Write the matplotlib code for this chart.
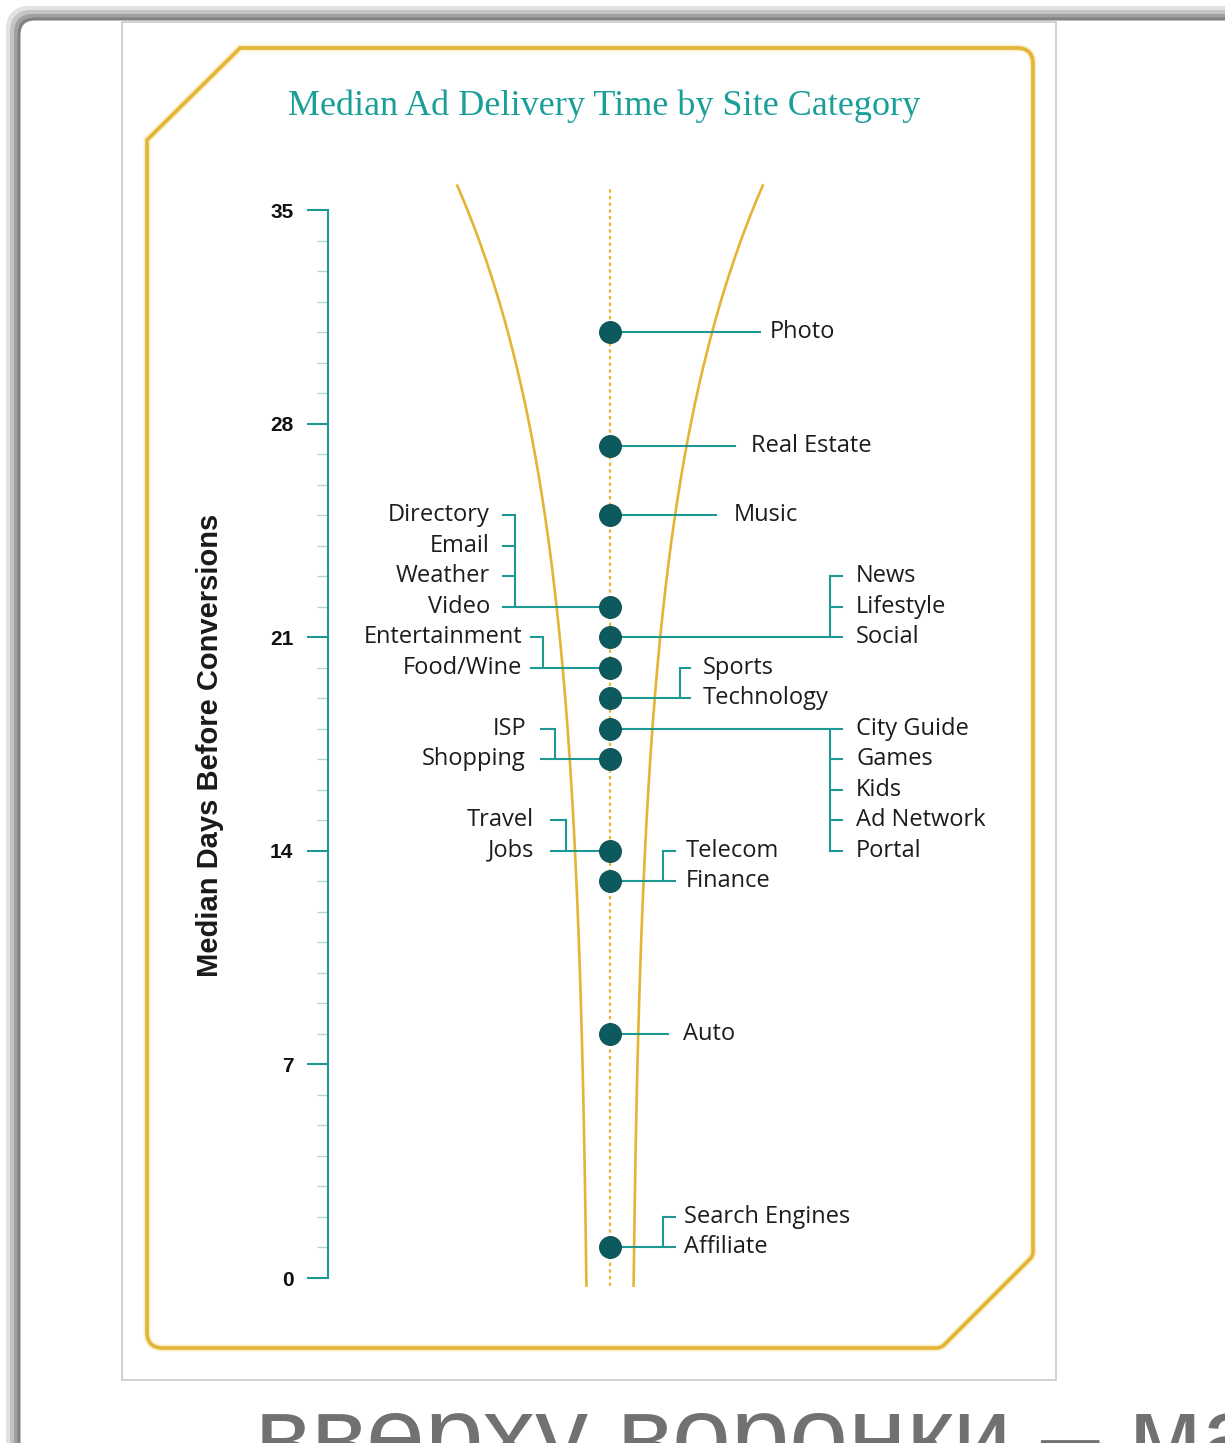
import numpy as np
import matplotlib
matplotlib.use('Agg')
import matplotlib.pyplot as plt
from matplotlib.path import Path
from matplotlib.patches import PathPatch, Rectangle, FancyBboxPatch

# ---------------- data ----------------
categories = ["Photo", "Real Estate", "Music",
              "Directory", "Email", "Weather", "Video",
              "News", "Lifestyle", "Social",
              "Entertainment", "Food/Wine",
              "Sports", "Technology",
              "City Guide", "Games", "Kids", "Ad Network", "Portal",
              "ISP", "Shopping",
              "Travel", "Jobs",
              "Telecom", "Finance",
              "Auto",
              "Search Engines", "Affiliate"]
values = [31, 27.25, 25,
          22, 22, 22, 22,
          21, 21, 21,
          20, 20,
          19, 19,
          18, 18, 18, 18, 18,
          17, 17,
          14, 14,
          13, 13,
          8,
          1, 1]
y_ticks = [0, 7, 14, 21, 28, 35]
title = "Median Ad Delivery Time by Site Category"
y_label = "Median Days Before Conversions"
footer = "вверху воронки – ма"

# ---------------- layout (positions / styles) ----------------
W, H = 1225, 1443
CX = 610  # centre line of the funnel
layout = {
    31:    dict(side='R', end=760, label=770),
    27.25: dict(side='R', end=735, label=751),
    25:    dict(side='R', end=716, label=734),
    22:    dict(side='L', bx=515, tx=503, label=490, dir=1),
    21:    dict(side='R', bx=830, tx=842, label=856, dir=1),
    20:    dict(side='L', bx=543, tx=531, label=522, dir=1),
    19:    dict(side='R', bx=680, tx=690, label=703, dir=1),
    18:    dict(side='R', bx=830, tx=842, label=856, dir=-1),
    17:    dict(side='L', bx=555, tx=541, label=526, dir=1),
    14:    dict(side='L', bx=566, tx=551, label=534, dir=1),
    13:    dict(side='R', bx=663, tx=675, label=686, dir=1),
    8:     dict(side='R', end=668, label=683),
    1:     dict(side='R', bx=663, tx=675, label=684, dir=1),
}
TEAL = '#1d9893'
DOT = '#0c5a5e'
GOLD = '#e4b437'
LABEL_FONT = ['Open Sans', 'DejaVu Sans']
LABEL_SIZE = 17

fig = plt.figure(figsize=(W / 100, H / 100), dpi=100)
fig.patch.set_facecolor('white')

# background / decoration axes in pixel coordinates
bg = fig.add_axes([0, 0, 1, 1])
bg.set_xlim(0, W)
bg.set_ylim(H, 0)
bg.axis('off')

# slide frame shadow
for lw, col, off in [(14, '#e2e2e2', 13), (10, '#c4c4c4', 15), (6, '#a0a0a0', 17), (3, '#808080', 19)]:
    bg.add_patch(FancyBboxPatch((off, off), 1400, 1600,
                                boxstyle='round,pad=0,rounding_size=16',
                                fill=False, ec=col, lw=lw * 0.72))

# inner white panel
bg.add_patch(Rectangle((122, 22), 934, 1358, fc='white', ec='#c9c9c9', lw=1.2))

# gold frame
verts = [(147, 140), (232, 56), (236, 52), (240, 48), (1017, 48), (1033, 48), (1033, 64),
         (1033, 1252), (1033, 1256), (1030, 1259), (944, 1345), (941, 1348), (936, 1348),
         (163, 1348), (147, 1348), (147, 1332), (147, 140)]
codes = [Path.MOVETO, Path.LINETO, Path.CURVE3, Path.CURVE3, Path.LINETO, Path.CURVE3, Path.CURVE3,
         Path.LINETO, Path.CURVE3, Path.CURVE3, Path.LINETO, Path.CURVE3, Path.CURVE3,
         Path.LINETO, Path.CURVE3, Path.CURVE3, Path.CLOSEPOLY]
frame = Path(verts, codes)
bg.add_patch(PathPatch(frame, fill=False, ec='#f6e6a8', lw=7 * 0.72, alpha=0.6))
bg.add_patch(PathPatch(frame, fill=False, ec=GOLD, lw=3.6 * 0.72))

# title
bg.text(604, 106, title, ha='center', va='center', fontsize=26,
        family=['Liberation Serif', 'DejaVu Serif'], color='#1a9e98')

# footer (cut by the bottom edge, as in the original slide)
bg.text(255, 1470, footer, ha='left', va='baseline', fontsize=76,
        family=['Liberation Sans', 'DejaVu Sans'], color='#717171')

# ---------------- main chart axes ----------------
k = 1068 / 35.0
ymin, ymax = -1, 37
px_bottom = 1278 + (0 - ymin) * k
px_top = 210 - (ymax - 35) * k
ax = fig.add_axes([122 / W, (H - px_bottom) / H, 934 / W, (px_bottom - px_top) / H])
ax.set_xlim(122, 1056)
ax.set_ylim(ymin, ymax)
ax.patch.set_visible(False)
for s in ['top', 'right', 'bottom']:
    ax.spines[s].set_visible(False)
ax.spines['left'].set_position(('data', 328))
ax.spines['left'].set_bounds(0, 35)
ax.spines['left'].set_color(TEAL)
ax.spines['left'].set_linewidth(1.5)
ax.set_xticks([])
ax.set_yticks(y_ticks)
ax.set_yticks(np.arange(0, 36), minor=True)
ax.tick_params(axis='y', which='major', length=15, width=1.5, color=TEAL, pad=10,
               labelsize=15, labelcolor='#111111')
ax.tick_params(axis='y', which='minor', length=8, width=1.0, color='#b7d5d3')
for lbl in ax.get_yticklabels():
    lbl.set_fontfamily(['Liberation Sans', 'DejaVu Sans'])
    lbl.set_fontweight('bold')
ax.set_ylabel(y_label, fontsize=21, fontweight='bold',
              family=['Liberation Sans', 'DejaVu Sans'], color='#1a1a1a')
ax.yaxis.set_label_coords((224 - 122) / 934, (17.47 - ymin) / (ymax - ymin))

# funnel (decoration)
t = np.linspace(-0.25, 35.8, 300)
d = 20 + 3.7 * np.exp(0.1 * t)
ax.plot(CX - d, t, color=GOLD, lw=1.9, zorder=1)
ax.plot(CX + d, t, color=GOLD, lw=1.9, zorder=1)
ax.plot([CX, CX], [-0.25, 35.8], color=GOLD, lw=1.6, ls=(0, (1.5, 1.5)), zorder=1)

# connectors and labels
groups = {}
for c, v in zip(categories, values):
    groups.setdefault(v, []).append(c)

for v, cats in groups.items():
    L = layout[v]
    n = len(cats)
    if n == 1:
        ax.plot([CX, L['end']], [v, v], color=TEAL, lw=1.5, zorder=2)
        ax.text(L['label'], v, cats[0], ha='left', va='center', fontsize=LABEL_SIZE,
                family=LABEL_FONT, color='#1c1c1c')
        continue
    if L['dir'] == 1:
        levels = [v + (n - 1 - i) for i in range(n)]
    else:
        levels = [v - i for i in range(n)]
    ax.plot([CX, L['tx']], [v, v], color=TEAL, lw=1.5, zorder=2)
    ax.plot([L['bx'], L['bx']], [min(levels), max(levels)], color=TEAL, lw=1.5, zorder=2)
    for c, lv in zip(cats, levels):
        if lv != v:
            ax.plot([L['bx'], L['tx']], [lv, lv], color=TEAL, lw=1.5, zorder=2)
        ha = 'left' if L['side'] == 'R' else 'right'
        ax.text(L['label'], lv, c, ha=ha, va='center', fontsize=LABEL_SIZE,
                family=LABEL_FONT, color='#1c1c1c')

uv = list(groups.keys())
ax.scatter([CX] * len(uv), uv, s=250, color=DOT, edgecolor='#094a4d', lw=0.6, zorder=5)

fig.savefig('out.png', dpi=100, facecolor='white')
